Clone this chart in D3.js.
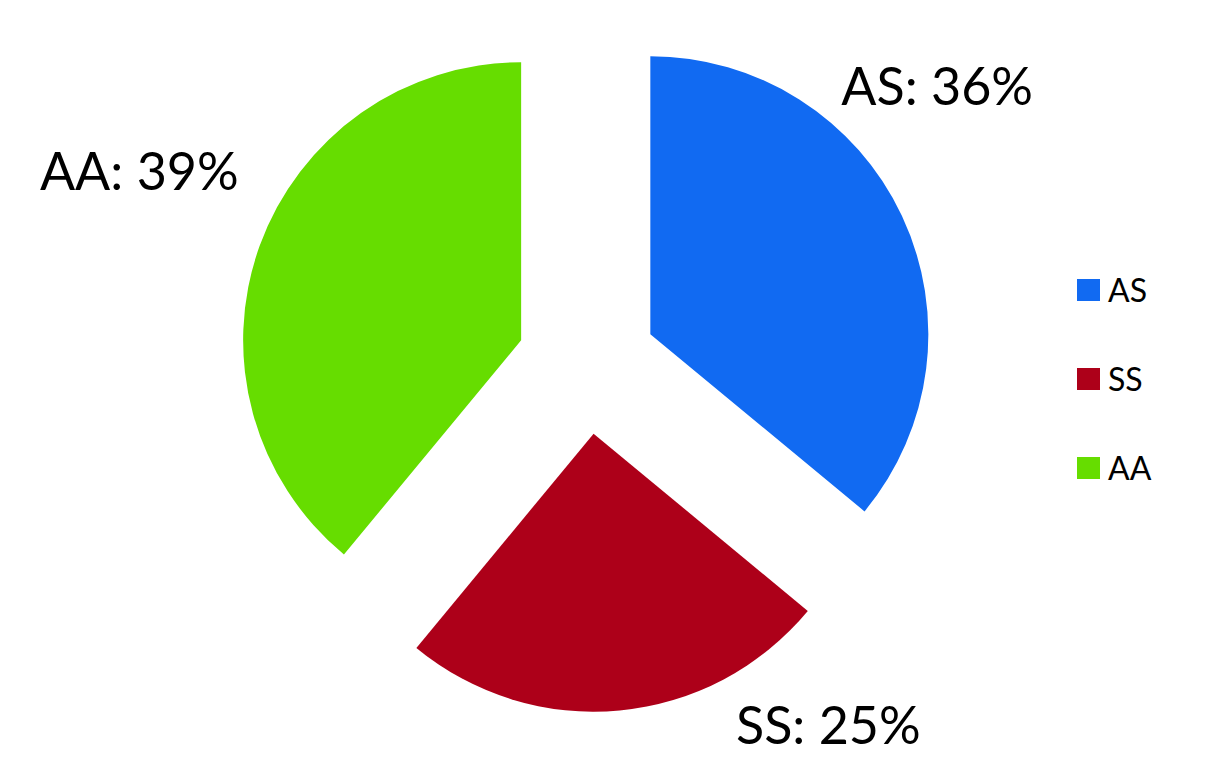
<!DOCTYPE html>
<html>
<head>
<meta charset="utf-8">
<script src="https://cdn.jsdelivr.net/npm/d3@7"></script>
<style>
  body { margin: 0; background: #fff; }
  svg { display: block; }
</style>
</head>
<body>
<div id="chart"></div>
<script>
var categories = ["AS", "SS", "AA"];
var values = [36, 25, 39];
var colors = ["#116af2", "#ad0019", "#66dd00"];

var width = 1222, height = 765;
var cx = 587, cy = 364, radius = 278, explode = 70;

var svg = d3.select("#chart").append("svg")
    .attr("width", width)
    .attr("height", height);

var data = categories.map(function(c, i) {
    return {name: c, value: values[i], color: colors[i]};
});

var pie = d3.pie()
    .sort(null)
    .value(function(d) { return d.value; });

var arc = d3.arc()
    .innerRadius(0)
    .outerRadius(radius);

var slices = pie(data);

// label placement: angle (deg, clockwise from top) and distance from slice vertex
var labelPos = {
    AS: {angle: 49, dist: 380},
    SS: {angle: 141, dist: 373},
    AA: {angle: 294, dist: 418}
};

var g = svg.append("g")
    .attr("transform", "translate(" + cx + "," + cy + ")");

var sliceG = g.selectAll("g.slice")
    .data(slices)
    .enter().append("g")
    .attr("class", "slice")
    .attr("transform", function(d) {
        var mid = (d.startAngle + d.endAngle) / 2;
        return "translate(" + (Math.sin(mid) * explode) + "," + (-Math.cos(mid) * explode) + ")";
    });

sliceG.append("path")
    .attr("d", arc)
    .attr("fill", function(d) { return d.data.color; });

sliceG.append("text")
    .attr("x", function(d) {
        var p = labelPos[d.data.name];
        return Math.sin(p.angle * Math.PI / 180) * p.dist;
    })
    .attr("y", function(d) {
        var p = labelPos[d.data.name];
        return -Math.cos(p.angle * Math.PI / 180) * p.dist;
    })
    .attr("text-anchor", "middle")
    .attr("dominant-baseline", "central")
    .style("font-family", "Lato, 'Open Sans', sans-serif")
    .style("font-size", "52px")
    .attr("fill", "#000")
    .text(function(d) { return d.data.name + ": " + d.data.value + "%"; });

// legend
var legend = svg.append("g")
    .attr("transform", "translate(1077,279)");

var item = legend.selectAll("g")
    .data(data)
    .enter().append("g")
    .attr("transform", function(d, i) { return "translate(0," + (i * 89) + ")"; });

item.append("rect")
    .attr("width", 23)
    .attr("height", 22)
    .attr("fill", function(d) { return d.color; });

item.append("text")
    .attr("x", 31)
    .attr("y", 23)
    .style("font-family", "Lato, 'Open Sans', sans-serif")
    .style("font-size", "32px")
    .attr("fill", "#000")
    .text(function(d) { return d.name; });
</script>
</body>
</html>
